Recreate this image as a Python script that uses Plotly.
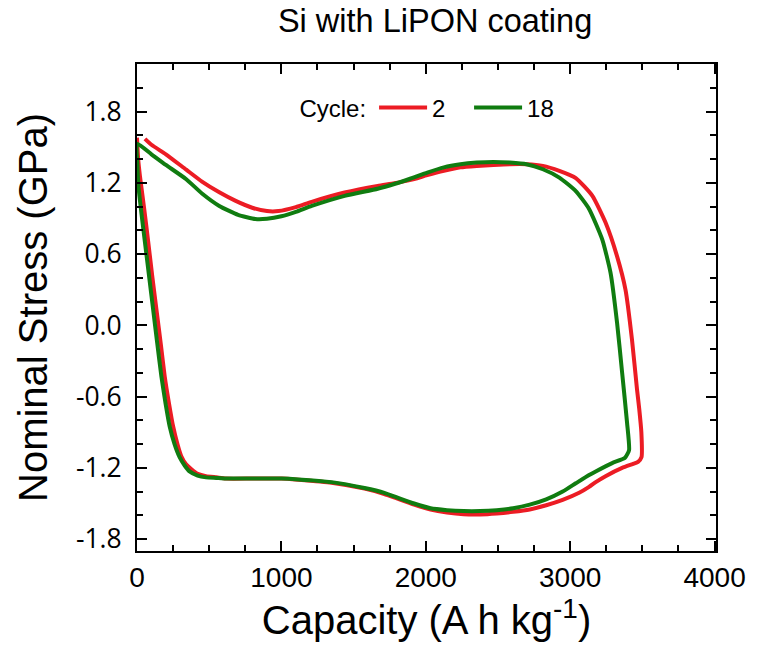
import plotly.graph_objects as go

# Cycle 2 (red)
cap_c2 = [0, 8, 20, 50, 78, 105, 135, 165, 192, 222, 250, 280, 306, 340, 375, 420, 478, 550, 615, 800, 1000,
          1118, 1347, 1576, 1713, 1804, 1919, 2033, 2147, 2262, 2376, 2491, 2605, 2720, 2834, 2948, 3062, 3131,
          3177, 3245, 3360, 3440, 3470, 3494, 3493, 3478, 3463, 3428, 3383, 3325, 3245, 3154, 3039, 2925, 2811,
          2697, 2582, 2468, 2353, 2240, 2125, 2010, 1896, 1782, 1667, 1438, 1210, 1100, 980, 900, 798, 680, 570,
          450, 341, 200, 100, 55]
str_c2 = [1.58, 1.40, 1.26, 0.98, 0.70, 0.42, 0.13, -0.16, -0.43, -0.66, -0.85, -1.00, -1.10, -1.17, -1.21, -1.25,
          -1.27, -1.28, -1.29, -1.29, -1.29, -1.30, -1.325, -1.375, -1.42, -1.46, -1.51, -1.55, -1.575, -1.59,
          -1.592, -1.584, -1.57, -1.55, -1.515, -1.47, -1.41, -1.36, -1.32, -1.27, -1.20, -1.165, -1.15, -1.11,
          -0.90, -0.70, -0.54, -0.12, 0.30, 0.58, 0.865, 1.09, 1.24, 1.30, 1.342, 1.356, 1.356, 1.35, 1.342, 1.33,
          1.30, 1.264, 1.224, 1.196, 1.174, 1.118, 1.04, 0.995, 0.962, 0.962, 0.99, 1.05, 1.12, 1.21, 1.31, 1.44,
          1.52, 1.57]

# Cycle 18 (green)
cap_c18 = [0, 3, 10, 30, 55, 85, 112, 140, 169, 198, 226, 260, 295, 330, 364, 420, 478, 550, 615, 800, 1000,
           1118, 1347, 1576, 1713, 1804, 1919, 2033, 2147, 2262, 2376, 2491, 2605, 2720, 2834, 2948, 3039, 3131,
           3177, 3291, 3380, 3408, 3394, 3360, 3325, 3280, 3223, 3131, 3039, 2925, 2811, 2697, 2582, 2468, 2353,
           2240, 2125, 2010, 1896, 1782, 1667, 1438, 1210, 1100, 1000, 900, 820, 700, 570, 450, 341, 200, 100, 0]
str_c18 = [1.53, 1.35, 1.17, 0.95, 0.70, 0.40, 0.13, -0.15, -0.43, -0.66, -0.85, -1.00, -1.11, -1.18, -1.23,
           -1.265, -1.28, -1.285, -1.29, -1.29, -1.29, -1.297, -1.32, -1.37, -1.41, -1.45, -1.50, -1.54, -1.556,
           -1.564, -1.564, -1.556, -1.54, -1.51, -1.466, -1.40, -1.33, -1.26, -1.23, -1.16, -1.115, -1.05, -0.82,
           -0.40, 0.02, 0.44, 0.72, 0.98, 1.13, 1.244, 1.314, 1.356, 1.37, 1.376, 1.37, 1.356, 1.33, 1.286, 1.236,
           1.19, 1.15, 1.09, 1.005, 0.955, 0.918, 0.897, 0.895, 0.93, 1.005, 1.11, 1.23, 1.35, 1.44, 1.53]

y_tickvals = [-1.8, -1.2, -0.6, 0.0, 0.6, 1.2, 1.8]
y_ticktext = ["-1.8", "-1.2", "-0.6", "0.0", "0.6", "1.2", "1.8"]
x_tickvals = [0, 1000, 2000, 3000, 4000]

RED = "#EC1C24"
GREEN = "#107C10"

fig = go.Figure()
fig.add_trace(go.Scatter(x=cap_c2, y=str_c2, mode="lines", name="2",
                         line=dict(color=RED, width=4, shape="spline", smoothing=0.5)))
fig.add_trace(go.Scatter(x=cap_c18, y=str_c18, mode="lines", name="18",
                         line=dict(color=GREEN, width=4, shape="spline", smoothing=0.5)))

axis_common = dict(showline=True, linecolor="black", linewidth=2, mirror="allticks",
                   ticks="inside", ticklen=10, tickwidth=2, tickcolor="black",
                   showgrid=False, zeroline=False)

fig.update_xaxes(range=[0, 4010], tickvals=x_tickvals,
                 minor=dict(dtick=250, tick0=0, ticks="inside", ticklen=6, tickwidth=2, tickcolor="black"),
                 tickfont=dict(family="Liberation Sans, Arial", size=28, color="black"),
                 title=dict(text="Capacity (A h kg<sup>-1</sup>)",
                            font=dict(family="Liberation Sans, Arial", size=40, color="black"), standoff=6),
                 **axis_common)
fig.update_yaxes(range=[-1.9, 2.2], tickvals=y_tickvals, ticktext=y_ticktext,
                 minor=dict(dtick=0.2, tick0=0, ticks="inside", ticklen=6, tickwidth=2, tickcolor="black"),
                 tickfont=dict(family="Open Sans", size=26.5, color="black"),
                 ticklabelstandoff=8,
                 title=dict(text="Nominal Stress (GPa)",
                            font=dict(family="Liberation Sans, Arial", size=40, color="black"), standoff=16),
                 **axis_common)

fig.update_layout(
    width=758, height=654,
    margin=dict(l=137, r=36, t=64, b=103),
    paper_bgcolor="white", plot_bgcolor="white",
    title=dict(text="Si with LiPON coating", x=0.574, xanchor="center", y=1 - 21 / 654, yanchor="middle",
               font=dict(family="Liberation Sans, Arial", size=32.5, color="black")),
    legend=dict(orientation="h", x=0.277, xanchor="left", y=0.91, yanchor="middle",
                title=dict(text="Cycle:", side="left", font=dict(family="Liberation Sans, Arial", size=24, color="black")),
                font=dict(family="Liberation Sans, Arial", size=24, color="black"),
                itemwidth=48, entrywidth=32, entrywidthmode="pixels", bgcolor="rgba(0,0,0,0)"),
    showlegend=True,
)

fig.write_html("out.html")
